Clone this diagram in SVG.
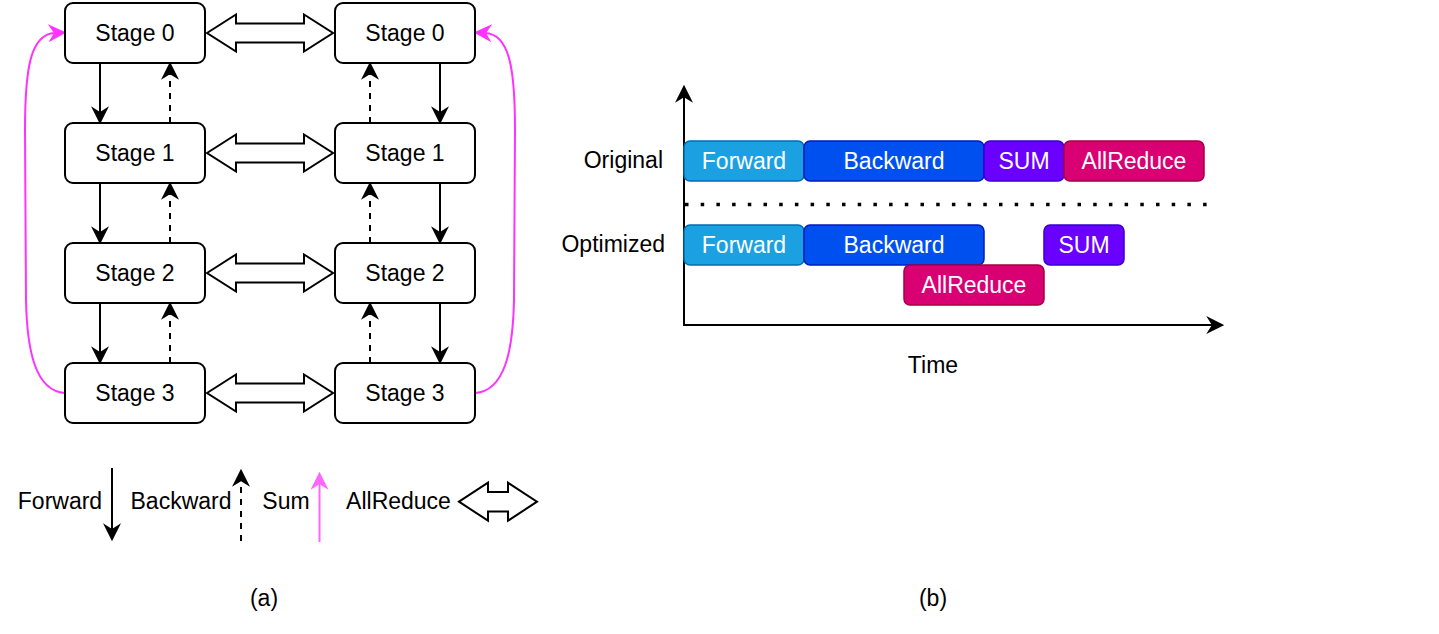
<svg xmlns="http://www.w3.org/2000/svg" width="1439" height="634" viewBox="0 0 1439 634">
<style>
text{font-family:"Liberation Sans",Arial,sans-serif;font-size:23px;dominant-baseline:central;text-anchor:middle;fill:#000}
.node{fill:#fff;stroke:#000;stroke-width:2}
.fwd{fill:none;stroke:#000;stroke-width:2}
.bwd{fill:none;stroke:#000;stroke-width:2;stroke-dasharray:6 6}
.sum{fill:none;stroke:#FF33FF;stroke-width:2}
.flex{fill:#fff;stroke:#000;stroke-width:2;stroke-linejoin:miter}
.bar text{fill:#fff}
.f{fill:#1BA1E2;stroke:#006EAF;stroke-width:1.5}
.b{fill:#0050EF;stroke:#001DBC;stroke-width:1.5}
.s{fill:#6A00FF;stroke:#3700CC;stroke-width:1.5}
.a{fill:#D80073;stroke:#A50040;stroke-width:1.5}
</style>
<defs>
<marker id="ah" markerUnits="userSpaceOnUse" markerWidth="18" markerHeight="18" viewBox="0 0 16 16" refX="6" refY="8" orient="auto">
<path d="M0 0 L16 8 L0 16 L5 8 Z" fill="#000"/>
</marker>
<marker id="ahm" markerUnits="userSpaceOnUse" markerWidth="18" markerHeight="18" viewBox="0 0 16 16" refX="6" refY="8" orient="auto">
<path d="M0 0 L16 8 L0 16 L5 8 Z" fill="#FF33FF"/>
</marker>
<marker id="ahl" markerUnits="userSpaceOnUse" markerWidth="18" markerHeight="18" viewBox="0 0 16 16" refX="6" refY="8" orient="auto">
<path d="M0 0 L16 8 L0 16 L5 8 Z" fill="#FF66FF"/>
</marker>
</defs>

<g id="connectors">
<!-- forward arrows left column -->
<line class="fwd" x1="100" y1="63" x2="100" y2="113" marker-end="url(#ah)"/>
<line class="fwd" x1="100" y1="183" x2="100" y2="233" marker-end="url(#ah)"/>
<line class="fwd" x1="100" y1="303" x2="100" y2="353" marker-end="url(#ah)"/>
<!-- backward left -->
<line class="bwd" x1="170" y1="123" x2="170" y2="73" marker-end="url(#ah)"/>
<line class="bwd" x1="170" y1="243" x2="170" y2="193" marker-end="url(#ah)"/>
<line class="bwd" x1="170" y1="363" x2="170" y2="313" marker-end="url(#ah)"/>
<!-- forward right -->
<line class="fwd" x1="440" y1="63" x2="440" y2="113" marker-end="url(#ah)"/>
<line class="fwd" x1="440" y1="183" x2="440" y2="233" marker-end="url(#ah)"/>
<line class="fwd" x1="440" y1="303" x2="440" y2="353" marker-end="url(#ah)"/>
<!-- backward right -->
<line class="bwd" x1="370" y1="123" x2="370" y2="73" marker-end="url(#ah)"/>
<line class="bwd" x1="370" y1="243" x2="370" y2="193" marker-end="url(#ah)"/>
<line class="bwd" x1="370" y1="363" x2="370" y2="313" marker-end="url(#ah)"/>
<!-- allreduce double arrows -->
<polygon class="flex" points="207,33 236,14.5 236,23.5 304,23.5 304,14.5 333,33 304,51.5 304,42.5 236,42.5 236,51.5"/>
<polygon class="flex" points="207,153 236,134.5 236,143.5 304,143.5 304,134.5 333,153 304,171.5 304,162.5 236,162.5 236,171.5"/>
<polygon class="flex" points="207,273 236,254.5 236,263.5 304,263.5 304,254.5 333,273 304,291.5 304,282.5 236,282.5 236,291.5"/>
<polygon class="flex" points="207,393 236,374.5 236,383.5 304,383.5 304,374.5 333,393 304,411.5 304,402.5 236,402.5 236,411.5"/>
<!-- sum curves -->
<path class="sum" d="M65 393 C35 391 27 350 26 300 L25 130 C25 70 30 34 55 33" marker-end="url(#ahm)"/>
<path class="sum" d="M475 393 C505 391 513 350 514 300 L515 130 C515 70 510 34 485 33" marker-end="url(#ahm)"/>
</g>

<g id="stage0-left"><rect class="node" x="65" y="3" width="140" height="60" rx="8"/><text x="135" y="33">Stage 0</text></g>
<g id="stage1-left"><rect class="node" x="65" y="123" width="140" height="60" rx="8"/><text x="135" y="153">Stage 1</text></g>
<g id="stage2-left"><rect class="node" x="65" y="243" width="140" height="60" rx="8"/><text x="135" y="273">Stage 2</text></g>
<g id="stage3-left"><rect class="node" x="65" y="363" width="140" height="60" rx="8"/><text x="135" y="393">Stage 3</text></g>
<g id="stage0-right"><rect class="node" x="335" y="3" width="140" height="60" rx="8"/><text x="405" y="33">Stage 0</text></g>
<g id="stage1-right"><rect class="node" x="335" y="123" width="140" height="60" rx="8"/><text x="405" y="153">Stage 1</text></g>
<g id="stage2-right"><rect class="node" x="335" y="243" width="140" height="60" rx="8"/><text x="405" y="273">Stage 2</text></g>
<g id="stage3-right"><rect class="node" x="335" y="363" width="140" height="60" rx="8"/><text x="405" y="393">Stage 3</text></g>

<g id="legend">
<text x="60" y="501">Forward</text>
<line class="fwd" x1="112" y1="468" x2="112" y2="530" marker-end="url(#ah)"/>
<text x="181" y="501">Backward</text>
<line class="bwd" x1="241" y1="541" x2="241" y2="480" marker-end="url(#ah)"/>
<text x="286" y="501">Sum</text>
<line x1="319.5" y1="542" x2="319.5" y2="483" stroke="#FF66FF" stroke-width="2" marker-end="url(#ahl)"/>
<text x="398.5" y="501">AllReduce</text>
<polygon class="flex" points="459,501.7 488,482.7 488,492 508,492 508,482.7 537,501.7 508,520.7 508,511.4 488,511.4 488,520.7"/>
</g>

<g id="caption-a"><text x="264" y="598">(a)</text></g>

<g id="timeline">
<line x1="684" y1="326" x2="684" y2="96" stroke="#000" stroke-width="2" marker-end="url(#ah)"/>
<line x1="683" y1="325" x2="1213" y2="325" stroke="#000" stroke-width="2" marker-end="url(#ah)"/>
<line x1="685" y1="204.5" x2="1216" y2="204.5" stroke="#000" stroke-width="3.5" stroke-dasharray="3.5 12.2"/>
<text x="663" y="160" style="text-anchor:end">Original</text>
<text x="665" y="244" style="text-anchor:end">Optimized</text>
<text x="933" y="365">Time</text>
</g>

<g id="orig-forward" class="bar"><rect class="f" x="684" y="141" width="120" height="40" rx="6"/><text x="744" y="161">Forward</text></g>
<g id="orig-backward" class="bar"><rect class="b" x="804" y="141" width="180" height="40" rx="6"/><text x="894" y="161">Backward</text></g>
<g id="orig-sum" class="bar"><rect class="s" x="984" y="141" width="80" height="40" rx="6"/><text x="1024" y="161">SUM</text></g>
<g id="orig-allreduce" class="bar"><rect class="a" x="1064" y="141" width="140" height="40" rx="6"/><text x="1134" y="161">AllReduce</text></g>

<g id="opt-forward" class="bar"><rect class="f" x="684" y="225" width="120" height="40" rx="6"/><text x="744" y="245">Forward</text></g>
<g id="opt-backward" class="bar"><rect class="b" x="804" y="225" width="180" height="40" rx="6"/><text x="894" y="245">Backward</text></g>
<g id="opt-allreduce" class="bar"><rect class="a" x="904" y="265" width="140" height="40" rx="6"/><text x="974" y="285">AllReduce</text></g>
<g id="opt-sum" class="bar"><rect class="s" x="1044" y="225" width="80" height="40" rx="6"/><text x="1084" y="245">SUM</text></g>

<g id="caption-b"><text x="933" y="598">(b)</text></g>
</svg>
